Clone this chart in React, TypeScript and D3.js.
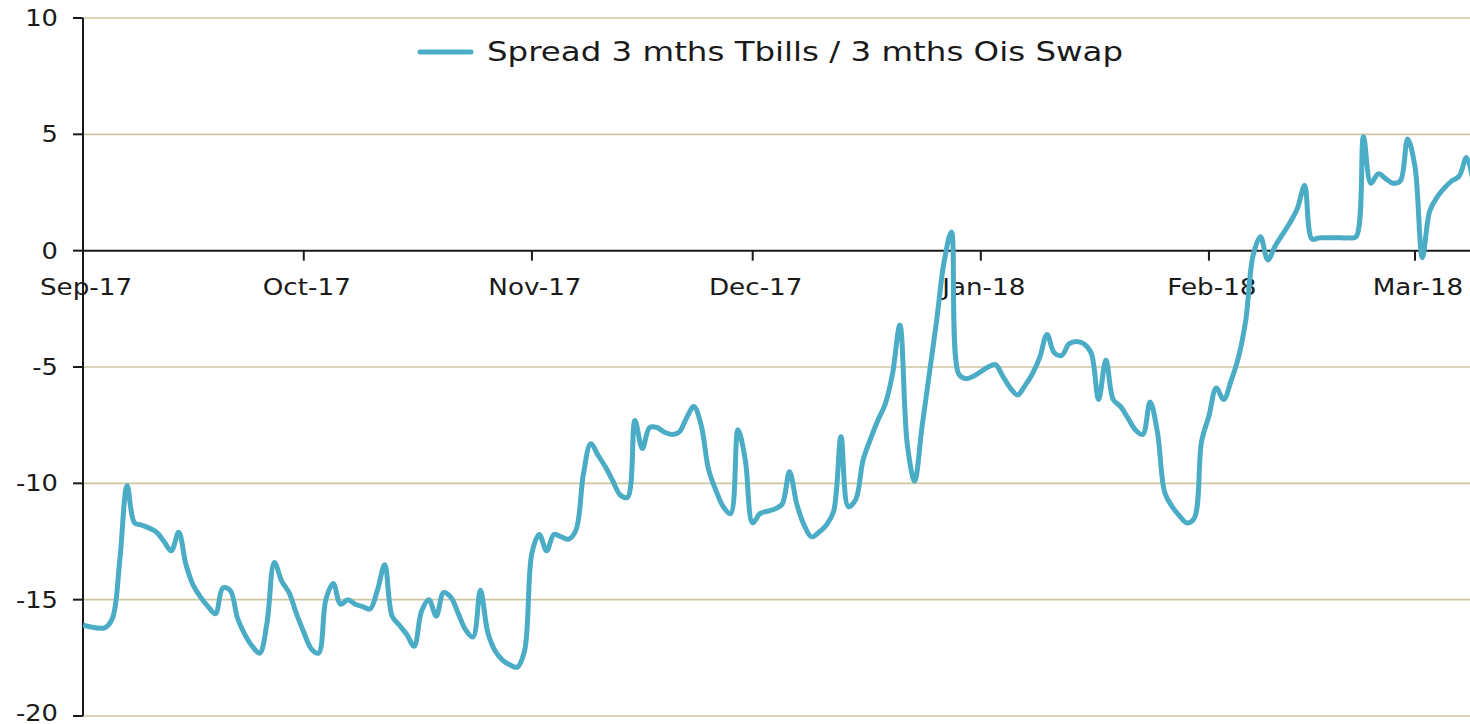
import React from "react";
import * as d3 from "d3";

const width = 1470;
const height = 724;
const plot = { left: 83, right: 1470, top: 18, bottom: 716 };

const seriesName = "Spread 3 mths Tbills / 3 mths Ois Swap";
const yTicks = [-20, -15, -10, -5, 0, 5, 10];
const monthTicks = ["2017-09-01", "2017-10-01", "2017-11-01", "2017-12-01", "2018-01-01", "2018-02-01", "2018-03-01"];

// spread in bp
const spread: [string, number][] = [
  ["2017-09-01", -16.1], ["2017-09-04", -16.2], ["2017-09-05", -15.8], ["2017-09-06", -13.3],
  ["2017-09-07", -10.1], ["2017-09-08", -11.7], ["2017-09-09", -11.8], ["2017-09-11", -12.1],
  ["2017-09-12", -12.5], ["2017-09-13", -12.9], ["2017-09-14", -12.1], ["2017-09-15", -13.5],
  ["2017-09-16", -14.4], ["2017-09-17", -14.9], ["2017-09-18", -15.3], ["2017-09-19", -15.6],
  ["2017-09-20", -14.5], ["2017-09-21", -14.6], ["2017-09-22", -15.8], ["2017-09-23", -16.5],
  ["2017-09-24", -17.0], ["2017-09-25", -17.3], ["2017-09-26", -16.0], ["2017-09-27", -13.4],
  ["2017-09-28", -14.2], ["2017-09-29", -14.7], ["2017-09-30", -15.6],
  ["2017-10-01", -16.4], ["2017-10-02", -17.1], ["2017-10-03", -17.3], ["2017-10-04", -15.0],
  ["2017-10-05", -14.3], ["2017-10-06", -15.2], ["2017-10-07", -15.0], ["2017-10-08", -15.2],
  ["2017-10-09", -15.3], ["2017-10-10", -15.4], ["2017-10-11", -14.6], ["2017-10-12", -13.5],
  ["2017-10-13", -15.7], ["2017-10-14", -16.1], ["2017-10-15", -16.5], ["2017-10-16", -17.0],
  ["2017-10-17", -15.5], ["2017-10-18", -15.0], ["2017-10-19", -15.7], ["2017-10-20", -14.7],
  ["2017-10-21", -14.9], ["2017-10-22", -15.6], ["2017-10-23", -16.3], ["2017-10-24", -16.6],
  ["2017-10-25", -14.6], ["2017-10-26", -16.4], ["2017-10-27", -17.2], ["2017-10-28", -17.6],
  ["2017-10-29", -17.8], ["2017-10-30", -17.9], ["2017-10-31", -17.2],
  ["2017-11-01", -13.0], ["2017-11-02", -12.2], ["2017-11-03", -12.9], ["2017-11-04", -12.2],
  ["2017-11-05", -12.3], ["2017-11-06", -12.4], ["2017-11-07", -12.0], ["2017-11-08", -9.6],
  ["2017-11-09", -8.3], ["2017-11-10", -8.8], ["2017-11-11", -9.3], ["2017-11-12", -9.9],
  ["2017-11-13", -10.5], ["2017-11-14", -10.6], ["2017-11-15", -7.3], ["2017-11-16", -8.5],
  ["2017-11-17", -7.6], ["2017-11-18", -7.6], ["2017-11-19", -7.8], ["2017-11-20", -7.9],
  ["2017-11-21", -7.8], ["2017-11-22", -7.2], ["2017-11-23", -6.7], ["2017-11-24", -7.5],
  ["2017-11-25", -9.4], ["2017-11-26", -10.3], ["2017-11-27", -11.0], ["2017-11-28", -11.3],
  ["2017-11-29", -7.7], ["2017-11-30", -9.0],
  ["2017-12-01", -11.7], ["2017-12-02", -11.3], ["2017-12-03", -11.2], ["2017-12-04", -11.1],
  ["2017-12-05", -10.9], ["2017-12-06", -9.5], ["2017-12-07", -10.9], ["2017-12-08", -11.8],
  ["2017-12-09", -12.3], ["2017-12-10", -12.1], ["2017-12-11", -11.8], ["2017-12-12", -11.2],
  ["2017-12-13", -8.0], ["2017-12-14", -11.0], ["2017-12-15", -10.7], ["2017-12-16", -9.0],
  ["2017-12-17", -8.1], ["2017-12-18", -7.3], ["2017-12-19", -6.6], ["2017-12-20", -5.3],
  ["2017-12-21", -3.2], ["2017-12-22", -8.3], ["2017-12-23", -9.9], ["2017-12-24", -7.6],
  ["2017-12-25", -5.3], ["2017-12-26", -3.0], ["2017-12-27", -0.5], ["2017-12-28", 0.8],
  ["2017-12-29", -5.3], ["2017-12-30", -5.5], ["2017-12-31", -5.4],
  ["2018-01-01", -5.2], ["2018-01-02", -5.0], ["2018-01-03", -4.9], ["2018-01-04", -5.4],
  ["2018-01-05", -5.9], ["2018-01-06", -6.2], ["2018-01-07", -5.8], ["2018-01-08", -5.3],
  ["2018-01-09", -4.6], ["2018-01-10", -3.6], ["2018-01-11", -4.4], ["2018-01-12", -4.5],
  ["2018-01-13", -4.0], ["2018-01-14", -3.9], ["2018-01-15", -4.0], ["2018-01-16", -4.4],
  ["2018-01-17", -6.4], ["2018-01-18", -4.7], ["2018-01-19", -6.4], ["2018-01-20", -6.7],
  ["2018-01-21", -7.2], ["2018-01-22", -7.7], ["2018-01-23", -7.9], ["2018-01-24", -6.5],
  ["2018-01-25", -7.8], ["2018-01-26", -10.4], ["2018-01-27", -11.0], ["2018-01-28", -11.4],
  ["2018-01-29", -11.7], ["2018-01-30", -11.5], ["2018-01-31", -8.2],
  ["2018-02-01", -7.1], ["2018-02-02", -5.9], ["2018-02-03", -6.4], ["2018-02-04", -5.6],
  ["2018-02-05", -4.6], ["2018-02-06", -3.0], ["2018-02-07", -0.2], ["2018-02-08", 0.6],
  ["2018-02-09", -0.4], ["2018-02-10", 0.2], ["2018-02-11", 0.7], ["2018-02-12", 1.2],
  ["2018-02-13", 1.8], ["2018-02-14", 2.8], ["2018-02-15", 0.5], ["2018-02-16", 0.55],
  ["2018-02-17", 0.55], ["2018-02-18", 0.55], ["2018-02-19", 0.55], ["2018-02-20", 0.55],
  ["2018-02-21", 0.6], ["2018-02-22", 4.9], ["2018-02-23", 2.9], ["2018-02-24", 3.3],
  ["2018-02-25", 3.1], ["2018-02-26", 2.9], ["2018-02-27", 3.0], ["2018-02-28", 4.8],
  ["2018-03-01", 3.6], ["2018-03-02", -0.3], ["2018-03-03", 1.7], ["2018-03-04", 2.3],
  ["2018-03-05", 2.7], ["2018-03-06", 3.0], ["2018-03-07", 3.2], ["2018-03-08", 4.0],
  ["2018-03-09", 2.8],
];

const parse = d3.timeParse("%Y-%m-%d");
const fmt = d3.timeFormat("%b-%y");
const font = "'DejaVu Sans', Verdana, sans-serif";
const lineColor = "#4BACC6";
const gridColor = "#CDC6A2";

export default function App() {
  const data = spread.map(([d, v]) => ({ date: parse(d) as Date, value: v }));
  const xScale = d3
    .scaleTime()
    .domain([parse("2017-09-01") as Date, parse("2018-03-01") as Date])
    .range([plot.left, 1415]);
  const yScale = d3.scaleLinear().domain([-20, 10]).range([plot.bottom, plot.top]);

  const line = d3
    .line<{ date: Date; value: number }>()
    .x(d => xScale(d.date))
    .y(d => yScale(d.value))
    .curve(d3.curveCatmullRom.alpha(0.5));

  const y0 = yScale(0);

  return (
    <svg
      width={width}
      height={height}
      style={{ position: "absolute", left: 0, top: 0, background: "#fff" }}
    >
      <defs>
        <clipPath id="plotClip">
          <rect x={plot.left} y={0} width={plot.right - plot.left} height={height} />
        </clipPath>
      </defs>

      {/* gridlines */}
      {yTicks.filter(t => t !== 0).map(t => (
        <line key={t} x1={plot.left} x2={plot.right} y1={yScale(t)} y2={yScale(t)} stroke={gridColor} strokeWidth={1.6} />
      ))}

      {/* y axis */}
      <line x1={plot.left} x2={plot.left} y1={plot.top} y2={plot.bottom} stroke="#1a1a1a" strokeWidth={2} />
      {yTicks.map(t => (
        <g key={t}>
          <line x1={plot.left - 10} x2={plot.left} y1={yScale(t)} y2={yScale(t)} stroke="#1a1a1a" strokeWidth={2} />
          <text
            transform={`translate(58,${t === -20 ? yScale(t) - 3 : yScale(t)}) scale(1.12,1)`}
            textAnchor="end"
            dominantBaseline="central"
            fontFamily={font}
            fontSize={23}
            fill="#1a1a1a"
          >
            {t}
          </text>
        </g>
      ))}

      {/* zero axis with month ticks */}
      <line x1={plot.left} x2={plot.right} y1={y0} y2={y0} stroke="#1a1a1a" strokeWidth={2} />
      {monthTicks.map(m => {
        const x = xScale(parse(m) as Date);
        return (
          <g key={m}>
            <line x1={x} x2={x} y1={y0} y2={y0 + 10} stroke="#1a1a1a" strokeWidth={2} />
            <text
              transform={`translate(${x + 3},295) scale(1.14,1)`}
              textAnchor="middle"
              fontFamily={font}
              fontSize={23}
              fill="#1a1a1a"
            >
              {fmt(parse(m) as Date)}
            </text>
          </g>
        );
      })}

      {/* series */}
      <path
        d={line(data) || ""}
        fill="none"
        stroke={lineColor}
        strokeWidth={5}
        strokeLinejoin="round"
        clipPath="url(#plotClip)"
      />

      {/* legend */}
      <line x1={420} x2={471} y1={52} y2={52} stroke={lineColor} strokeWidth={5} strokeLinecap="round" />
      <text
        x={487}
        y={61}
        fontFamily={font}
        fontSize={27}
        fill="#1a1a1a"
        textLength={636}
        lengthAdjust="spacingAndGlyphs"
      >
        {seriesName}
      </text>
    </svg>
  );
}
